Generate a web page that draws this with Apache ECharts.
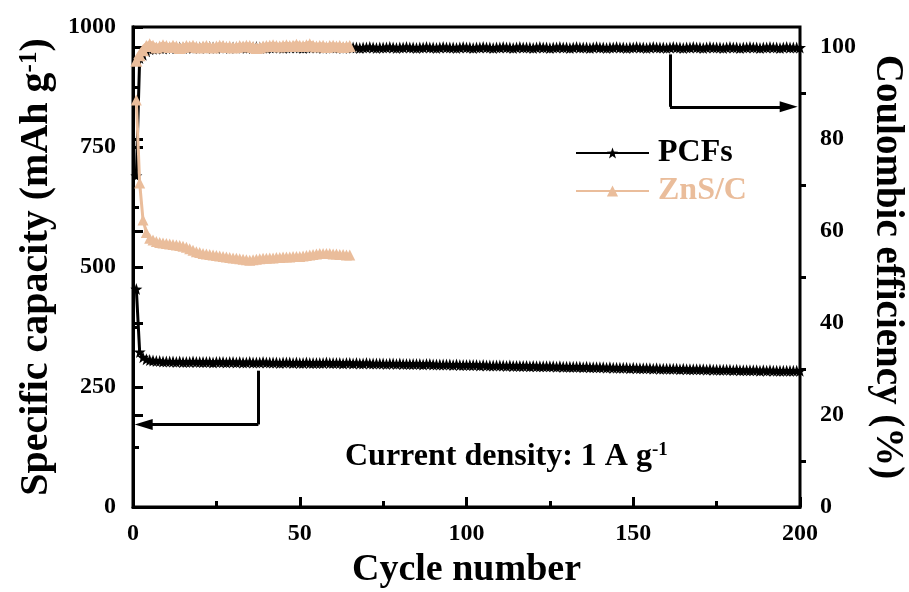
<!DOCTYPE html>
<html>
<head>
<meta charset="utf-8">
<script src="https://cdn.jsdelivr.net/npm/echarts@6/dist/echarts.min.js"></script>
<style>
html, body {margin: 0; padding: 0; background: #fff;}
#chart {width: 909px; height: 592px;}
</style>
</head>
<body>
<div id="chart"></div>
<script>
// capacity (mAh g-1), one value per cycle starting at cycle 1
var pcfsCapacity = [
    454, 323, 312, 308, 306, 305, 304, 304, 303, 303,
    303, 303, 302, 303, 302, 302, 302, 303, 302, 302,
    302, 302, 302, 301, 302, 302, 302, 301, 302, 302,
    301, 302, 301, 301, 302, 301, 301, 301, 302, 301,
    301, 301, 301, 300, 301, 301, 301, 300, 301, 300,
    300, 301, 300, 300, 300, 300, 300, 301, 300, 300,
    300, 300, 299, 300, 300, 299, 300, 299, 299, 300,
    299, 299, 299, 299, 299, 298, 299, 299, 298, 299,
    298, 298, 298, 298, 298, 298, 297, 298, 298, 297,
    297, 297, 297, 297, 297, 296, 297, 296, 296, 296,
    296, 296, 296, 295, 296, 295, 295, 295, 295, 295,
    295, 294, 295, 294, 294, 294, 294, 294, 293, 294,
    293, 293, 293, 293, 293, 293, 292, 293, 292, 292,
    292, 292, 292, 292, 291, 292, 291, 291, 291, 291,
    291, 290, 291, 290, 290, 290, 290, 290, 289, 290,
    289, 289, 289, 289, 289, 288, 289, 288, 288, 288,
    288, 288, 288, 287, 288, 287, 287, 287, 287, 287,
    287, 286, 287, 286, 286, 286, 286, 286, 286, 285,
    286, 285, 285, 285, 285, 285, 285, 284, 285, 284,
    285, 284, 284, 284, 284, 284, 284, 284, 284, 284
];
var zncCapacity = [
    848, 675, 598, 572, 560, 556, 553, 551, 550, 549,
    548, 547, 546, 545, 543, 541, 538, 535, 532, 530,
    528, 527, 526, 525, 524, 523, 522, 521, 520, 519,
    518, 517, 516, 515, 514, 515, 516, 517, 518, 518,
    519, 519, 520, 520, 521, 521, 521, 522, 522, 522,
    523, 524, 525, 526, 527, 528, 528, 528, 528, 527,
    527, 526, 526, 525, 525
];
// coulombic efficiency (%)
var pcfsEfficiency = [
    72.0, 97.6, 98.3, 99.1, 99.5, 99.6, 99.7, 99.8, 99.7, 99.8,
    99.8, 99.9, 99.8, 99.9, 99.8, 99.9, 99.9, 99.8, 99.9, 99.9,
    99.9, 99.8, 100.0, 99.9, 99.8, 99.9, 100.0, 99.9, 99.8, 99.9,
    99.9, 100.0, 99.9, 99.8, 99.9, 99.9, 100.0, 99.9, 99.9, 99.8,
    99.9, 99.9, 100.0, 99.9, 99.8, 99.9, 99.9, 100.0, 99.9, 99.9,
    99.8, 99.9, 99.9, 100.0, 99.9, 99.9, 99.8, 99.9, 100.0, 99.9,
    99.9, 99.9, 99.8, 99.9, 100.0, 99.9, 99.9, 99.8, 99.9, 99.9,
    100.0, 99.9, 99.8, 99.9, 99.9, 99.9, 100.0, 99.9, 99.8, 99.9,
    99.9, 100.0, 99.9, 99.9, 99.8, 99.9, 99.9, 100.0, 99.9, 99.9,
    99.8, 99.9, 100.0, 99.9, 99.9, 99.9, 99.8, 99.9, 100.0, 99.9,
    99.9, 99.8, 99.9, 99.9, 100.0, 99.9, 99.9, 99.8, 99.9, 99.9,
    100.0, 99.9, 99.9, 99.8, 99.9, 100.0, 99.9, 99.9, 99.9, 99.8,
    99.9, 100.0, 99.9, 99.9, 99.8, 99.9, 99.9, 100.0, 99.9, 99.9,
    99.8, 99.9, 100.0, 99.9, 99.9, 99.9, 99.8, 99.9, 100.0, 99.9,
    99.9, 99.8, 99.9, 99.9, 100.0, 99.9, 99.9, 99.8, 99.9, 99.9,
    100.0, 99.9, 99.9, 99.8, 99.9, 100.0, 99.9, 99.9, 99.9, 99.8,
    99.9, 100.0, 99.9, 99.9, 99.8, 99.9, 99.9, 100.0, 99.9, 99.9,
    99.8, 99.9, 100.0, 99.9, 99.9, 99.9, 99.8, 99.9, 100.0, 99.9,
    99.9, 99.8, 99.9, 99.9, 100.0, 99.9, 99.9, 99.8, 99.9, 99.9,
    100.0, 99.9, 99.9, 99.8, 99.9, 100.0, 99.9, 99.9, 99.9, 99.9
];
var zncEfficiency = [
    97.0, 98.2, 99.3, 100.2, 100.6, 100.3, 99.9, 100.1, 100.4, 100.2,
    100.0, 100.3, 100.1, 99.8, 100.0, 100.2, 100.1, 100.3, 100.0, 99.9,
    100.1, 100.2, 100.0, 99.9, 100.1, 100.3, 100.2, 100.0, 100.1, 99.9,
    100.0, 100.2, 100.1, 100.3, 100.2, 100.0, 99.8, 99.9, 100.1, 100.2,
    100.3, 100.4, 100.2, 100.1, 100.3, 100.4, 100.2, 100.3, 100.5, 100.3,
    100.2, 100.4, 100.6, 100.3, 100.1, 100.2, 100.3, 100.0, 100.2, 100.3,
    100.1, 100.2, 100.0, 100.1, 100.2
];
// tick positions
var cycleTicks = [0, 50, 100, 150, 200];
var cycleMinorTicks = [25, 75, 125, 175];
var capacityTicks = [0, 250, 500, 750, 1000];
var capacityMinorTicks = [125, 375, 625, 875];
var efficiencyTicks = [0, 20, 40, 60, 80, 100];
var efficiencyMinorTicks = [10, 30, 50, 70, 90];

var FONT = '"Liberation Serif", "Times New Roman", serif';
var ORANGE = '#EABD9B';
var STAR = 'path://M0,-10L2.35,-3.24L9.51,-3.09L3.8,1.24L5.88,8.09L0,4L-5.88,8.09L-3.8,1.24L-9.51,-3.09L-2.35,-3.24Z';

function toPoints(values) {
    return values.map(function(v, i) { return [i + 1, v]; });
}

// an axis that only draws ticks at the given values
// (the "inside" flag is chosen per side so the ticks end up outside the plot)
function tickAxis(pos, min, max, values, len, inside) {
    return {
        type: 'value',
        position: pos,
        min: min, max: max,
        axisLine: {show: false},
        axisTick: {show: true, inside: inside, length: len, customValues: values, lineStyle: {width: 3, color: '#000'}},
        axisLabel: {show: false},
        splitLine: {show: false}
    };
}

var myChart = echarts.init(document.getElementById('chart'), null, {renderer: 'canvas'});

var axisLine = {show: true, lineStyle: {color: '#000', width: 3}};
var labelStyle = {
    color: '#000', fontFamily: FONT, fontWeight: 'bold', fontSize: 24,
    formatter: function(v) { return String(v); }
};

option = {
    animation: false,
    backgroundColor: '#fff',
    grid: {
        left: 133, right: 109, top: 27, bottom: 85,
        outerBoundsMode: 'none',
        containLabel: false,
        show: true, borderColor: '#000', borderWidth: 3
    },
    legend: {
        orient: 'vertical',
        left: 575,
        top: 137,
        padding: 0,
        itemWidth: 73,
        itemHeight: 14,
        itemGap: 6,
        textStyle: {fontFamily: FONT, fontWeight: 'bold', fontSize: 32, padding: [0, 0, 0, 4]},
        data: [
            {name: 'PCFs', textStyle: {color: '#000'}},
            {name: 'ZnS/C', textStyle: {color: ORANGE}}
        ]
    },
    xAxis: [{
        type: 'value',
        min: 0, max: 200, interval: 50,
        axisLine: axisLine,
        axisTick: {show: false},
        splitLine: {show: false},
        axisLabel: Object.assign({margin: 15, customValues: cycleTicks}, labelStyle),
        name: 'Cycle number',
        nameLocation: 'middle',
        nameGap: 43,
        nameTextStyle: {color: '#000', fontFamily: FONT, fontWeight: 'bold', fontSize: 38}
    },
        tickAxis('bottom', 0, 200, cycleTicks, 10, true),
        tickAxis('bottom', 0, 200, cycleMinorTicks, 6, true)
    ],
    yAxis: [{
        type: 'value',
        position: 'left',
        min: 0, max: 1000, interval: 250,
        axisLine: axisLine,
        axisTick: {show: false},
        splitLine: {show: false},
        axisLabel: Object.assign({margin: 17, customValues: capacityTicks}, labelStyle),
        name: 'Specific capacity (mAh g{sup|-1})',
        nameLocation: 'middle',
        nameRotate: 90,
        nameGap: 75,
        nameTextStyle: {
            color: '#000', fontFamily: FONT, fontWeight: 'bold', fontSize: 40,
            rich: {sup: {color: '#000', fontFamily: FONT, fontWeight: 'bold', fontSize: 25, verticalAlign: 'top', padding: [0, 0, 14, 0]}}
        }
    }, {
        type: 'value',
        position: 'right',
        min: 0, max: 104.35,
        axisLine: axisLine,
        axisTick: {show: false},
        splitLine: {show: false},
        axisLabel: Object.assign({margin: 20, customValues: efficiencyTicks}, labelStyle),
        name: 'Coulombic efficiency (%)',
        nameLocation: 'middle',
        nameRotate: -90,
        nameGap: 68,
        nameTextStyle: {color: '#000', fontFamily: FONT, fontWeight: 'bold', fontSize: 39}
    },
        tickAxis('right', 0, 104.35, efficiencyTicks, 10, false),
        tickAxis('right', 0, 104.35, efficiencyMinorTicks, 6, false),
        tickAxis('left', 0, 1000, capacityTicks, 10, true),
        tickAxis('left', 0, 1000, capacityMinorTicks, 6, true)
    ],
    series: [{
        name: 'PCFs',
        type: 'line',
        yAxisIndex: 0,
        data: toPoints(pcfsCapacity),
        symbol: STAR,
        symbolSize: 12,
        showAllSymbol: true,
        lineStyle: {color: '#000', width: 3},
        itemStyle: {color: '#000'},
        z: 3,
        markLine: {
            silent: true,
            symbol: ['none', 'none'],
            label: {show: false},
            lineStyle: {color: '#000', width: 3, type: 'solid'},
            data: [
                [{coord: [37.6, 284]}, {coord: [37.6, 172]}],
                [{coord: [37.6, 172]}, {coord: [3.2, 172], symbol: 'triangle', symbolSize: [11, 18]}]
            ]
        }
    }, {
        name: 'PCFs',
        type: 'line',
        yAxisIndex: 1,
        data: toPoints(pcfsEfficiency),
        symbol: STAR,
        symbolSize: 12,
        showAllSymbol: true,
        lineStyle: {color: '#000', width: 3},
        itemStyle: {color: '#000'},
        z: 3,
        markLine: {
            silent: true,
            symbol: ['none', 'none'],
            label: {show: false},
            lineStyle: {color: '#000', width: 3, type: 'solid'},
            data: [
                [{coord: [161, 98.4]}, {coord: [161, 87.0]}],
                [{coord: [161, 87.0]}, {coord: [196.6, 87.0], symbol: 'triangle', symbolSize: [11, 18]}]
            ]
        }
    }, {
        name: 'ZnS/C',
        type: 'line',
        yAxisIndex: 0,
        data: toPoints(zncCapacity),
        symbol: 'triangle',
        symbolSize: 11,
        showAllSymbol: true,
        lineStyle: {color: ORANGE, width: 3},
        itemStyle: {color: ORANGE},
        z: 4
    }, {
        name: 'ZnS/C',
        type: 'line',
        yAxisIndex: 1,
        data: toPoints(zncEfficiency),
        symbol: 'triangle',
        symbolSize: 12,
        showAllSymbol: true,
        lineStyle: {color: ORANGE, width: 7},
        itemStyle: {color: ORANGE},
        z: 4
    }],
    graphic: [{
        type: 'text',
        left: 345,
        top: 441,
        style: {
            text: 'Current density: 1 A g{sup|-1}',
            fill: '#000',
            fontFamily: FONT,
            fontWeight: 'bold',
            fontSize: 32,
            rich: {sup: {fill: '#000', fontFamily: FONT, fontWeight: 'bold', fontSize: 19, verticalAlign: 'top', padding: [0, 0, 12, 0]}}
        }
    }]
};

myChart.setOption(option);
</script>
</body>
</html>
